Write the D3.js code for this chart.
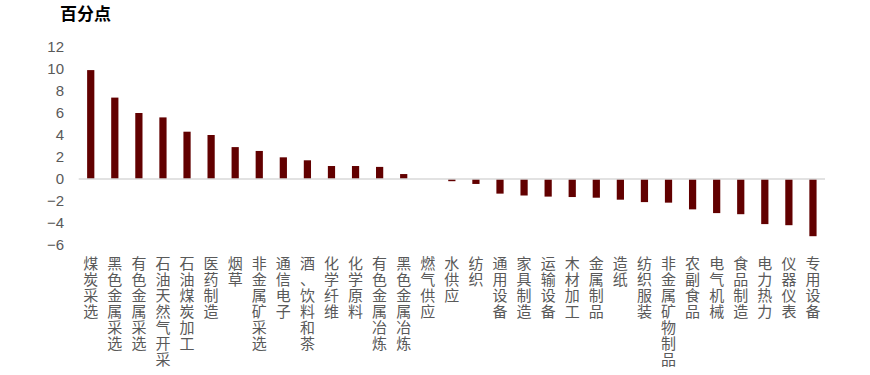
<html>
<head>
<meta charset="utf-8">
<style>
  body { margin: 0; background: #fff; }
  svg text { font-family: "Liberation Sans", Arial, "Noto Sans CJK SC", sans-serif; }
</style>
</head>
<body>
<svg id="plot"></svg>
<script src="https://d3js.org/d3.v7.min.js"></script>
<script>
// industries, sorted by change (percentage points)
var industries = ["煤炭采选","黑色金属采选","有色金属采选","石油天然气开采","石油煤炭加工",
    "医药制造","烟草","非金属矿采选","通信电子","酒、饮料和茶","化学纤维","化学原料",
    "有色金属冶炼","黑色金属冶炼","燃气供应","水供应","纺织","通用设备","家具制造",
    "运输设备","木材加工","金属制品","造纸","纺织服装","非金属矿物制品","农副食品",
    "电气机械","食品制造","电力热力","仪器仪表","专用设备"];

var changes = [9.9, 7.4, 6.0, 5.6, 4.3, 4.0, 2.9, 2.55, 1.97, 1.7, 1.18, 1.18,
    1.1, 0.45, 0.0, -0.2, -0.45, -1.33, -1.5, -1.6, -1.64, -1.7, -1.88, -2.1,
    -2.15, -2.76, -3.1, -3.2, -4.1, -4.2, -5.2];

var yTicks = [12, 10, 8, 6, 4, 2, 0, -2, -4, -6];

var screen = {width:870, height:375};

var svg = d3.select("#plot")
    .attr("width",screen.width)
    .attr("height",screen.height);

var xScale = d3.scaleBand()
    .domain(industries)
    .range([78.7, 825])
    .paddingInner(0.7)
    .paddingOuter(0.35);

var yScale = d3.scaleLinear()
    .domain([-6, 12])
    .range([245, 47]);

// title
svg.append("text")
    .text("百分点")
    .attr("x",60)
    .attr("y",20)
    .attr("font-size",17)
    .attr("font-weight","bold")
    .attr("fill","#000");

// y axis labels only
var yAxis = d3.axisLeft(yScale)
    .tickValues(yTicks)
    .tickSize(0)
    .tickPadding(0);

var yg = svg.append("g")
    .attr("transform","translate(64,0)")
    .call(yAxis);
yg.select(".domain").remove();
yg.selectAll("text")
    .attr("font-size",15)
    .attr("fill","#595959")
    .style("font-family","'Liberation Sans', Arial, sans-serif");

// bars
svg.append("g")
    .selectAll("rect")
    .data(industries)
    .enter()
    .append("rect")
    .attr("x",function(d){ return xScale(d); })
    .attr("width",xScale.bandwidth())
    .attr("y",function(d,i){ return yScale(Math.max(0,changes[i])); })
    .attr("height",function(d,i){ return Math.abs(yScale(changes[i])-yScale(0)); })
    .attr("fill","#620000");

// zero line
svg.append("line")
    .attr("x1",xScale.range()[0])
    .attr("x2",xScale.range()[1])
    .attr("y1",yScale(0))
    .attr("y2",yScale(0))
    .attr("stroke","#d9d9d9")
    .attr("stroke-width",1.5);

// vertical category labels, one character per line
var labels = svg.append("g")
    .selectAll("text")
    .data(industries)
    .enter()
    .append("text")
    .attr("font-size",15)
    .attr("fill","#595959")
    .attr("text-anchor","middle");

labels.each(function(d)
{
    var cx = xScale(d) + xScale.bandwidth()/2;
    var t = d3.select(this);
    Array.from(d).forEach(function(ch,k)
    {
        t.append("tspan")
            .attr("x",cx)
            .attr("y",269 + k*16)
            .text(ch);
    });
});
</script>
</body>
</html>
